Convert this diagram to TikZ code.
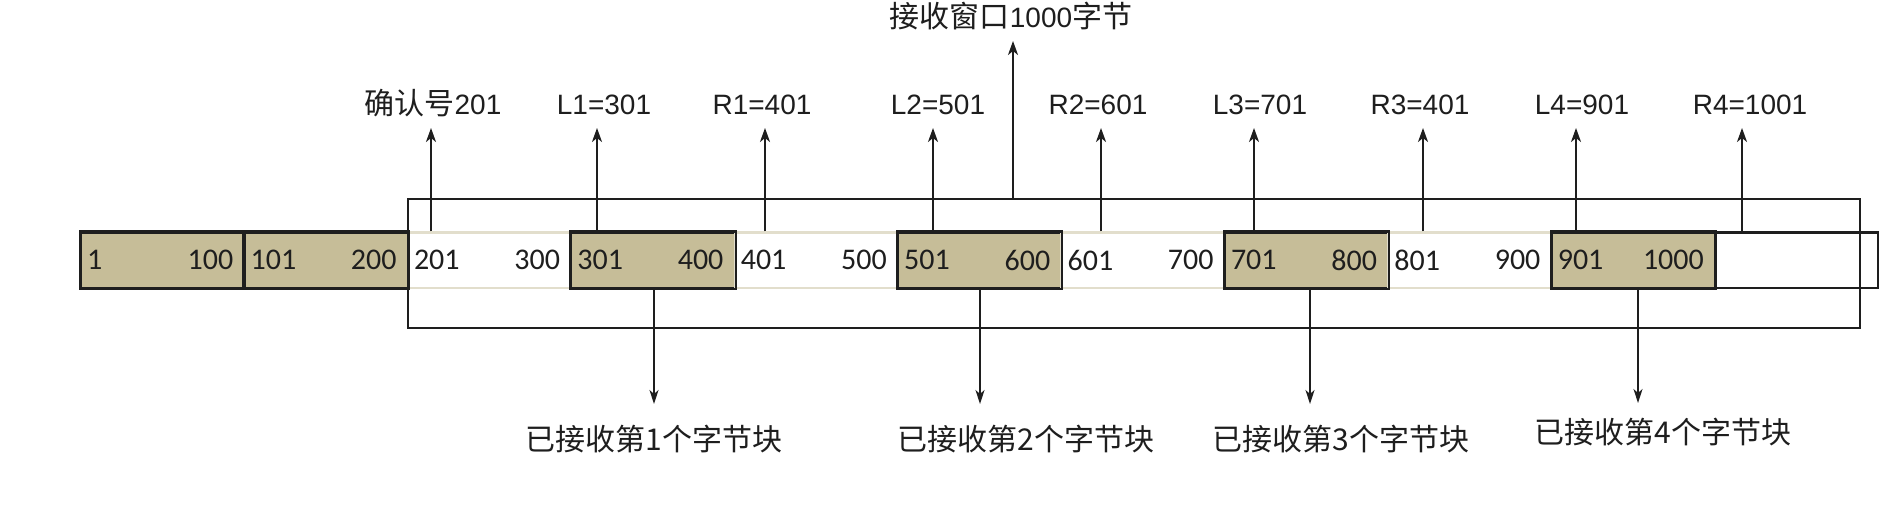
\documentclass[tikz,border=0pt]{standalone}
\usepackage{fontspec}
\setmainfont{Liberation Sans}
\newfontfamily\cjk{Noto Sans CJK SC}
\newfontfamily\calfont{Carlito}
\usetikzlibrary{arrows.meta}
\definecolor{tan}{RGB}{198,189,152}
\definecolor{ink}{RGB}{30,30,30}
\definecolor{faint}{RGB}{226,222,204}
\begin{document}
\begin{tikzpicture}[x=1pt,y=-1pt,
  cellbase/.style={minimum width=163.4pt,minimum height=55pt,inner sep=0pt,line width=2pt},
  tancell/.style={cellbase,draw=ink,fill=tan},
  whitecell/.style={cellbase,draw=faint,fill=white},
  emptycell/.style={cellbase,draw=ink,fill=white},
  num/.style={font=\calfont\fontsize{30}{34}\selectfont,text=ink,inner sep=0pt},
  toplabel/.style={font=\fontsize{28}{32}\selectfont,text=ink,inner sep=0pt,anchor=base},
  botlabel/.style={font=\cjk\fontsize{30}{34}\selectfont,text=ink,inner sep=0pt},
  winbox/.style={draw=ink,line width=2pt,minimum width=1452pt,minimum height=129pt,inner sep=0pt},
  uparrow/.style={draw=ink,line width=1.8pt,-{Stealth[length=14pt,width=10pt,inset=4pt]}},
  downarrow/.style={draw=ink,line width=1.4pt,-{Stealth[length=14pt,width=9pt,inset=4pt]}}
]
\useasboundingbox (0,0) rectangle (1887,505);
\fill[white] (0,0) rectangle (1887,505);

% cells
\foreach \i/\sty in {1/tancell,2/tancell,3/whitecell,4/tancell,5/whitecell,6/tancell,7/whitecell,8/tancell,9/whitecell,10/tancell,11/emptycell}{
  \node[\sty] (c\i) at ({81+163.4*(\i-0.5)},260) {};
}
% redraw dark borders of tan cells on top of faint ones
\foreach \i in {1,2,4,6,8,10}{
  \draw[ink,line width=2pt] (c\i.north west) rectangle (c\i.south east);
}

% cell numbers
\foreach \i/\a/\b in {1/1/100,2/101/200,3/201/300,4/301/400,5/401/500,6/501/600,7/601/700,8/701/800,9/801/900,10/901/1000}{
  \node[num,anchor=west] (n\i a) at ([xshift=7pt]c\i.west) {\a};
  \node[num,anchor=east] (n\i b) at ([xshift=-12pt]c\i.east) {\b};
}

% receive window
\node[winbox] (win) at (1134,263.5) {};

% top labels
\node[toplabel] (l0) at (433,115) {{\cjk\fontsize{30}{34}\selectfont 确认号}201};
\node[toplabel] (l1) at (604,115) {L1=301};
\node[toplabel] (r1) at (762,115) {R1=401};
\node[toplabel] (l2) at (938,115) {L2=501};
\node[toplabel] (r2) at (1098,115) {R2=601};
\node[toplabel] (l3) at (1260,115) {L3=701};
\node[toplabel] (r3) at (1420,115) {R3=401};
\node[toplabel] (l4) at (1582,115) {L4=901};
\node[toplabel] (r4) at (1750,115) {R4=1001};
\node[toplabel] (wl) at (1011,28) {{\cjk\fontsize{30}{34}\selectfont 接收窗口}1000{\cjk\fontsize{30}{34}\selectfont 字节}};

% arrow tips
\coordinate (t0) at (431,128);
\coordinate (t1) at (597,128);
\coordinate (t2) at (765,128);
\coordinate (t3) at (933,128);
\coordinate (t4) at (1101,128);
\coordinate (t5) at (1254,128);
\coordinate (t6) at (1423,128);
\coordinate (t7) at (1576,128);
\coordinate (t8) at (1742,128);
\coordinate (tw) at (1013,41);

\draw[uparrow] (t0 |- c3.north) -- (t0);
\draw[uparrow] (t1 |- c4.north) -- (t1);
\draw[uparrow] (t2 |- c5.north) -- (t2);
\draw[uparrow] (t3 |- c6.north) -- (t3);
\draw[uparrow] (t4 |- c7.north) -- (t4);
\draw[uparrow] (t5 |- c8.north) -- (t5);
\draw[uparrow] (t6 |- c9.north) -- (t6);
\draw[uparrow] (t7 |- c10.north) -- (t7);
\draw[uparrow] (t8 |- c11.north) -- (t8);
\draw[uparrow] (tw |- win.north) -- (tw);

% bottom labels
\node[botlabel] (b1) at (654,439) {已接收第1个字节块};
\node[botlabel] (b2) at (1026,439) {已接收第2个字节块};
\node[botlabel] (b3) at (1341,439) {已接收第3个字节块};
\node[botlabel] (b4) at (1663,432) {已接收第4个字节块};

\coordinate (d1) at (654,404);
\coordinate (d2) at (980,404);
\coordinate (d3) at (1310,404);
\coordinate (d4) at (1638,403);
\draw[downarrow] (d1 |- c4.south) -- (d1);
\draw[downarrow] (d2 |- c6.south) -- (d2);
\draw[downarrow] (d3 |- c8.south) -- (d3);
\draw[downarrow] (d4 |- c10.south) -- (d4);
\end{tikzpicture}
\end{document}
